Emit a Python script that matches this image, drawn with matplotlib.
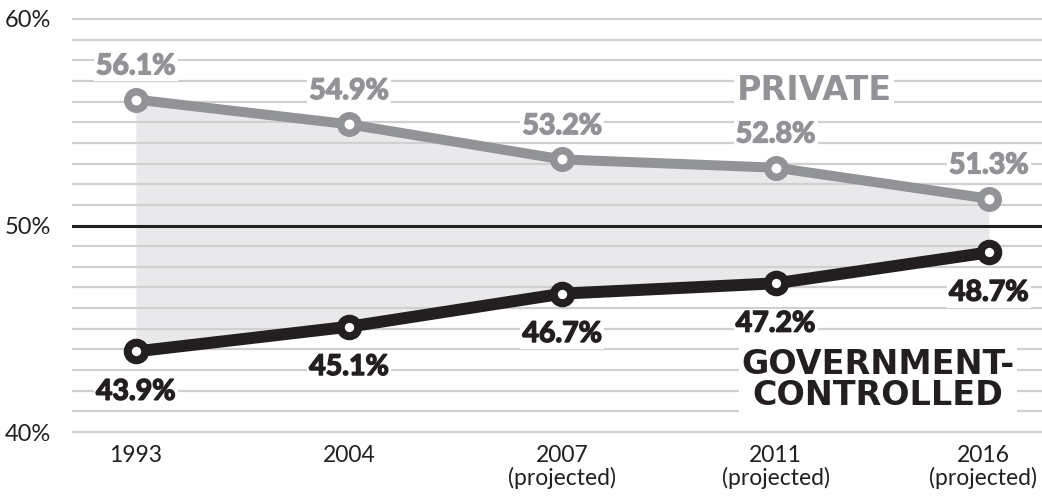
import numpy as np
import matplotlib.pyplot as plt
import matplotlib.patheffects as pe
from matplotlib.transforms import ScaledTranslation

# data
years = ["1993", "2004", "2007\n(projected)", "2011\n(projected)", "2016\n(projected)"]
private = [56.1, 54.9, 53.2, 52.8, 51.3]
government = [43.9, 45.1, 46.7, 47.2, 48.7]
y_ticks = [40, 50, 60]

GRAY = '#929397'
DARK = '#231f20'
FONT = 'Lato'

fig = plt.figure(figsize=(10.42, 4.96), dpi=100)
ax = fig.add_axes([0.070, 0.129, 0.930, 0.8327])

x = np.arange(len(years))
ax.set_xlim(-0.295, 4.249)
ax.set_ylim(40, 60)

# light grid every 1%, black line at 50%
for v in range(40, 61):
    if v == 50:
        ax.axhline(v, color=DARK, lw=2.2, zorder=1, clip_on=False)
    else:
        ax.axhline(v, color='#d0d0d0', lw=1.6, zorder=1, clip_on=False)

ax.fill_between(x, government, private, color='#e9e9eb', lw=0, zorder=0)

ax.plot(x, private, color=GRAY, lw=7.2, marker='o', ms=12.6, mew=5.4,
        mfc='white', mec=GRAY, zorder=3, solid_joinstyle='round')
ax.plot(x, government, color=DARK, lw=8.6, marker='o', ms=12.6, mew=5.8,
        mfc='white', mec=DARK, zorder=3, solid_joinstyle='round')

box = dict(facecolor='white', edgecolor='none', pad=1.5)
for xi, v in zip(x, private):
    ax.annotate(f"{v}%", (xi, v), xytext=(0, 24), textcoords='offset points',
                ha='center', va='center', fontsize=20.5, fontweight='bold',
                family=FONT, color=GRAY, bbox=box, zorder=4,
                path_effects=[pe.withStroke(linewidth=1.1, foreground=GRAY)])
for xi, v in zip(x, government):
    ax.annotate(f"{v}%", (xi, v), xytext=(0, -29), textcoords='offset points',
                ha='center', va='center', fontsize=20.5, fontweight='bold',
                family=FONT, color=DARK, bbox=box, zorder=4,
                path_effects=[pe.withStroke(linewidth=1.1, foreground=DARK)])

ax.text(3.18, 56.56, "PRIVATE", ha='center', va='center', fontsize=24,
        fontweight='heavy', family='DejaVu Sans', color=GRAY, bbox=box, zorder=4)
ax.text(3.48, 42.52, "GOVERNMENT-\nCONTROLLED", ha='center', va='center',
        fontsize=24, fontweight='heavy', family='DejaVu Sans', color=DARK,
        linespacing=0.9, bbox=box, zorder=4)

ax.set_yticks(y_ticks)
ax.set_yticklabels([f"{v}%" for v in y_ticks], fontsize=17, family=FONT, color=DARK)
ax.set_xticks(x)
ax.set_xticklabels(years, fontsize=16.5, family=FONT, color=DARK, linespacing=1.1)
ax.tick_params(axis='y', length=0, pad=16)
ax.tick_params(axis='x', length=0, pad=9)
last = ax.get_xticklabels()[-1]
last.set_transform(last.get_transform() + ScaledTranslation(-6 / 100, 0, fig.dpi_scale_trans))
for s in ax.spines.values():
    s.set_visible(False)

fig.savefig('out.png', dpi=100)
